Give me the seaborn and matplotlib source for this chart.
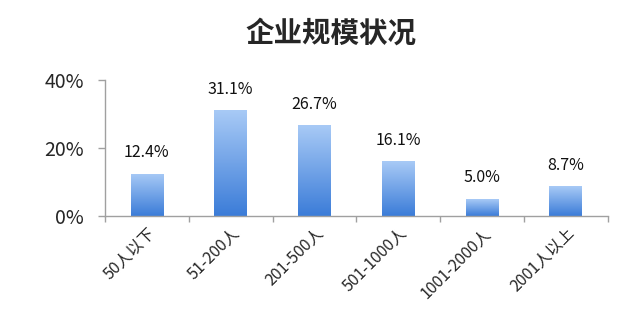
import matplotlib
matplotlib.use("Agg")
import matplotlib.pyplot as plt
import seaborn as sns
import numpy as np
import pandas as pd
from matplotlib.colors import LinearSegmentedColormap
from matplotlib.ticker import FixedLocator

categories = ["50人以下", "51-200人", "201-500人", "501-1000人", "1001-2000人", "2001人以上"]
values = [12.4, 31.1, 26.7, 16.1, 5.0, 8.7]
value_labels = ["12.4%", "31.1%", "26.7%", "16.1%", "5.0%", "8.7%"]
y_ticks = [0, 20, 40]
y_tick_labels = ["0%", "20%", "40%"]
title = "企业规模状况"

sns.set_theme(style="white")
plt.rcParams['font.family'] = ['Noto Sans CJK SC', 'DejaVu Sans']

df = pd.DataFrame({"cat": categories, "val": values})

fig = plt.figure(figsize=(6.39, 3.24), dpi=100)
ax = fig.add_axes([105/639, 1-216/324, (607.5-105)/639, (216-80)/324])

sns.barplot(data=df, x="cat", y="val", ax=ax, color="#6a9ee6", width=0.39, saturation=1)

cmap = LinearSegmentedColormap.from_list("g", ["#3b7cd8", "#a8caf6"])
grad = np.linspace(0, 1, 256).reshape(-1, 1)
for p in ax.patches:
    x0, y0 = p.get_x(), p.get_y()
    w, h = p.get_width(), p.get_height()
    p.set_facecolor("none")
    p.set_edgecolor("none")
    im = ax.imshow(grad, cmap=cmap, origin="lower", aspect="auto",
                   extent=[x0, x0 + w, y0, y0 + h], zorder=2)
    im.set_clip_path(p)

for i, (v, lab) in enumerate(zip(values, value_labels)):
    ax.annotate(lab, (i, v), xytext=(0, 9), textcoords="offset points",
                ha="center", va="bottom", fontsize=11.5, color="#111111")

ax.set_xlim(-0.5, len(categories) - 0.5)
ax.set_ylim(0, 40)
ax.set_yticks(y_ticks)
ax.set_yticklabels(y_tick_labels, fontsize=14)
ax.set_xlabel("")
ax.set_ylabel("")

ax.set_xticks(range(len(categories)))
ax.set_xticklabels(categories, fontsize=11.5, rotation=45, ha="right", va="top",
                   rotation_mode="anchor")
ax.xaxis.set_minor_locator(FixedLocator(np.arange(-0.5, len(categories), 1.0)))
ax.tick_params(axis="x", which="major", length=0, pad=6)
ax.tick_params(axis="x", which="minor", length=4.5, width=1, color="#a0a0a0", direction="out", bottom=True)
ax.tick_params(axis="y", which="major", length=5, width=1, color="#a0a0a0", direction="out", left=True, pad=10)

for s in ["top", "right"]:
    ax.spines[s].set_visible(False)
for s in ["left", "bottom"]:
    ax.spines[s].set_color("#a0a0a0")
    ax.spines[s].set_linewidth(1)

fig.text(331/639, 1-34/324, title, ha="center", va="center", fontsize=20.5, fontweight="bold")

fig.savefig("out.png", dpi=100)
